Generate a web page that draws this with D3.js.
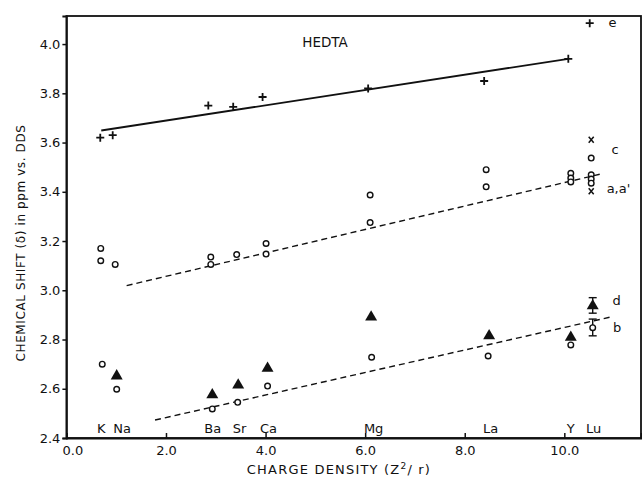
<!DOCTYPE html>
<html>
<head>
<meta charset="utf-8">
<script src="https://cdn.jsdelivr.net/npm/d3@7"></script>
<style>
  html, body { margin: 0; padding: 0; background: #fff; }
  svg { display: block; }
  text { font-family: "DejaVu Sans", sans-serif; fill: #111; }
</style>
</head>
<body>
<svg id="chart" width="642" height="479"></svg>
<script>
// ---------------- data ----------------
const xTicks = [0, 2, 4, 6, 8, 10];
const yTicks = [2.4, 2.6, 2.8, 3.0, 3.2, 3.4, 3.6, 3.8, 4.0];

// HEDTA crosses (e)
const crossX = [0.68, 0.93, 2.85, 3.35, 3.94, 6.06, 8.39, 10.08, 10.51];
const crossY = [3.62, 3.63, 3.75, 3.745, 3.785, 3.82, 3.85, 3.94, 4.085];

// upper open circles (a, a')
const upperCircX = [0.69, 0.69, 0.98, 2.9, 2.9, 3.42, 4.01, 4.01, 6.1, 6.1, 8.43, 8.43, 10.13, 10.13, 10.13, 10.54, 10.54, 10.54, 10.54];
const upperCircY = [3.17, 3.12, 3.105, 3.135, 3.105, 3.145, 3.19, 3.147, 3.387, 3.275, 3.49, 3.42, 3.475, 3.456, 3.44, 3.537, 3.469, 3.452, 3.435];

// x marks (c)
const xMarkX = [10.54, 10.54];
const xMarkY = [3.611, 3.402];

// lower open circles (b)
const lowerCircX = [0.72, 1.01, 2.93, 3.44, 4.04, 6.13, 8.47, 10.13, 10.57];
const lowerCircY = [2.70, 2.598, 2.518, 2.545, 2.611, 2.728, 2.733, 2.778, 2.848];

// filled triangles (d)
const triX = [1.01, 2.93, 3.45, 4.04, 6.12, 8.49, 10.13, 10.57];
const triY = [2.652, 2.575, 2.615, 2.683, 2.891, 2.815, 2.809, 2.937];

// error bars [x, low, high]
const errX = [10.57, 10.57];
const errLow = [2.815, 2.907];
const errHigh = [2.883, 2.970];

// fitted lines [x1, y1, x2, y2]
const solidLine = [0.70, 3.649, 10.08, 3.94];
const dashedUpper = [1.21, 3.019, 10.75, 3.473];
const dashedLower = [1.78, 2.473, 10.92, 2.891];

// element labels
const ionNames = ["K", "Na", "Ba", "Sr", "Ca", "Mg", "La", "Y", "Lu"];
const ionX = [0.70, 1.12, 2.94, 3.48, 4.06, 6.17, 8.52, 10.13, 10.59];

// series letters
const seriesLetters = ["e", "c", "a,a'", "d", "b"];
const letterX = [10.97, 11.02, 10.85, 11.05, 11.06];
const letterY = [4.07, 3.555, 3.395, 2.94, 2.83];

// ---------------- chart ----------------
const svg = d3.select("#chart");
const mLeft = 66.4, mRight = 641, mTop = 16, mBottom = 438;
const x = d3.scaleLinear().domain([0, 11.54]).range([mLeft, mRight]);
const y = d3.scaleLinear().domain([2.4, 4.114]).range([mBottom, mTop]);

// frame
svg.append("rect")
  .attr("x", mLeft).attr("y", mTop)
  .attr("width", mRight - mLeft).attr("height", mBottom - mTop)
  .attr("fill", "none").attr("stroke", "#111").attr("stroke-width", 1.8);

// x axis
const gx = svg.append("g").attr("transform", `translate(0,${mBottom})`)
  .call(d3.axisBottom(x).tickValues(xTicks).tickSize(-5).tickPadding(8)
    .tickFormat(d3.format(".1f")));
gx.select(".domain").attr("stroke", "#111").attr("stroke-width", 1.8);
gx.selectAll(".tick line").attr("stroke", "#111").attr("stroke-width", 1.5);
gx.selectAll(".tick text").attr("font-size", 13).attr("font-family", "DejaVu Sans")
  .attr("fill", "#111");
gx.selectAll(".tick text").filter(d => d === 0).attr("dx", 6);

// y axis
const gy = svg.append("g").attr("transform", `translate(${mLeft},0)`)
  .call(d3.axisLeft(y).tickValues(yTicks).tickSize(4).tickPadding(2)
    .tickFormat(d3.format(".1f")));
gy.select(".domain").attr("stroke", "#111").attr("stroke-width", 1.8);
gy.selectAll(".tick line").attr("stroke", "#111").attr("stroke-width", 1.5);
gy.selectAll(".tick text").attr("font-size", 13).attr("font-family", "DejaVu Sans")
  .attr("fill", "#111");

// axis titles
svg.append("text")
  .attr("x", 339).attr("y", 474)
  .attr("text-anchor", "middle").attr("font-size", 13)
  .attr("letter-spacing", 1.2)
  .html('CHARGE DENSITY (Z<tspan dy="-5" font-size="9">2</tspan><tspan dy="5">/ r)</tspan>');

svg.append("text")
  .attr("transform", "translate(25,243) rotate(-90)")
  .attr("text-anchor", "middle").attr("font-size", 12)
  .attr("letter-spacing", 0.6)
  .text("CHEMICAL  SHIFT (δ) in ppm vs. DDS");

// HEDTA title
svg.append("text").attr("x", 325).attr("y", 47)
  .attr("text-anchor", "middle").attr("font-size", 13.5)
  .text("HEDTA");

// lines
function seg(arr, dash, w) {
  svg.append("line")
    .attr("x1", x(arr[0])).attr("y1", y(arr[1]))
    .attr("x2", x(arr[2])).attr("y2", y(arr[3]))
    .attr("stroke", "#111").attr("stroke-width", w)
    .attr("stroke-dasharray", dash);
}
seg(solidLine, null, 1.8);
seg(dashedUpper, "6,4", 1.4);
seg(dashedLower, "6,4", 1.4);

// crosses
svg.append("g").selectAll("path")
  .data(d3.range(crossX.length))
  .join("path")
  .attr("transform", i => `translate(${x(crossX[i])},${y(crossY[i])})`)
  .attr("d", "M-4,0H4M0,-4V4")
  .attr("stroke", "#111").attr("stroke-width", 1.8).attr("fill", "none");

// x marks
svg.append("g").selectAll("path")
  .data(d3.range(xMarkX.length))
  .join("path")
  .attr("transform", i => `translate(${x(xMarkX[i])},${y(xMarkY[i])})`)
  .attr("d", "M-2.5,-3L2.5,3M2.5,-3L-2.5,3")
  .attr("stroke", "#111").attr("stroke-width", 1.5).attr("fill", "none");

// open circles
function circles(xs, ys) {
  svg.append("g").selectAll("circle")
    .data(d3.range(xs.length))
    .join("circle")
    .attr("cx", i => x(xs[i])).attr("cy", i => y(ys[i]))
    .attr("r", 2.8)
    .attr("fill", "#fff").attr("stroke", "#111").attr("stroke-width", 1.4);
}
circles(upperCircX, upperCircY);

// error bars
const eb = svg.append("g").attr("stroke", "#111").attr("stroke-width", 1.4);
d3.range(errX.length).forEach(i => {
  const cx = x(errX[i]);
  eb.append("line").attr("x1", cx).attr("x2", cx)
    .attr("y1", y(errLow[i])).attr("y2", y(errHigh[i]));
  [errLow[i], errHigh[i]].forEach(v => {
    eb.append("line").attr("x1", cx - 4).attr("x2", cx + 4)
      .attr("y1", y(v)).attr("y2", y(v));
  });
});
circles(lowerCircX, lowerCircY);

// triangles
const tri = d3.symbol().type(d3.symbolTriangle).size(62);
svg.append("g").selectAll("path")
  .data(d3.range(triX.length))
  .join("path")
  .attr("transform", i => `translate(${x(triX[i])},${y(triY[i])})`)
  .attr("d", tri())
  .attr("fill", "#111");

// ion labels
svg.append("g").selectAll("text")
  .data(d3.range(ionNames.length))
  .join("text")
  .attr("x", i => x(ionX[i])).attr("y", 433)
  .attr("text-anchor", "middle").attr("font-size", 13)
  .text(i => ionNames[i]);

// series letters
svg.append("g").selectAll("text")
  .data(d3.range(seriesLetters.length))
  .join("text")
  .attr("x", i => x(letterX[i])).attr("y", i => y(letterY[i]))
  .attr("text-anchor", i => seriesLetters[i].length > 1 ? "start" : "middle")
  .attr("font-size", 13)
  .text(i => seriesLetters[i]);
</script>
</body>
</html>
